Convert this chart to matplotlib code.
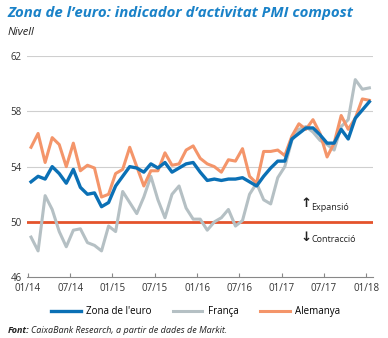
import numpy as np
import matplotlib
matplotlib.use("Agg")
import matplotlib.pyplot as plt

plt.rcParams['font.family'] = ['Open Sans', 'DejaVu Sans']

# PMI compost mensual, gener 2014 - gener 2018
zona_euro = [52.9, 53.3, 53.1, 54.0, 53.5, 52.8, 53.8, 52.5, 52.0, 52.1, 51.1, 51.4,
             52.6, 53.3, 54.0, 53.9, 53.6, 54.2, 53.9, 54.3, 53.6, 53.9, 54.2, 54.3,
             53.6, 53.0, 53.1, 53.0, 53.1, 53.1, 53.2, 52.9, 52.6, 53.3, 53.9, 54.4,
             54.4, 56.0, 56.4, 56.8, 56.8, 56.3, 55.7, 55.7, 56.7, 56.0, 57.5, 58.1,
             58.7]
franca = [48.9, 47.9, 51.9, 50.9, 49.3, 48.2, 49.4, 49.5, 48.5, 48.3, 47.9, 49.7,
          49.3, 52.2, 51.4, 50.6, 51.8, 53.3, 51.6, 50.3, 52.0, 52.6, 51.0, 50.2,
          50.2, 49.4, 50.0, 50.3, 50.9, 49.7, 50.1, 52.0, 52.8, 51.6, 51.3, 53.2,
          54.0, 55.9, 56.7, 56.9, 56.5, 55.9, 55.6, 55.2, 56.9, 57.4, 60.3, 59.6,
          59.7]
alemanya = [55.4, 56.4, 54.3, 56.1, 55.6, 54.0, 55.7, 53.7, 54.1, 53.9, 51.8, 52.0,
            53.5, 53.8, 55.4, 54.0, 52.6, 53.7, 53.7, 55.0, 54.1, 54.2, 55.2, 55.5,
            54.6, 54.2, 54.0, 53.6, 54.5, 54.4, 55.3, 53.3, 52.8, 55.1, 55.1, 55.2,
            54.8, 56.2, 57.1, 56.7, 57.4, 56.4, 54.7, 55.7, 57.7, 56.7, 57.5, 58.9,
            58.8]
tick_labels = ['01/14', '07/14', '01/15', '07/15', '01/16', '07/16', '01/17', '07/17', '01/18']

BLUE = '#0b70b5'
GRAY = '#b5c0c4'
ORANGE = '#f4956a'
RED = '#e4532b'

# mid-month positions, ticks at the start of each month
x = np.arange(len(zona_euro)) + 0.45

fig = plt.figure(figsize=(3.88, 3.38), dpi=100)
ax = fig.add_axes([0.07, 0.18, 0.892, 0.654])

for v in [54, 58, 62]:
    ax.axhline(v, color='#cfcfcf', lw=0.8, zorder=1)
ax.axhline(50, color=RED, lw=2.0, zorder=2)

l_fr, = ax.plot(x, franca, color=GRAY, lw=2.2, label='França', zorder=3)
l_de, = ax.plot(x, alemanya, color=ORANGE, lw=2.2, label='Alemanya', zorder=4)
l_ez, = ax.plot(x, zona_euro, color=BLUE, lw=2.4, label="Zona de l'euro", zorder=5)

ax.set_ylim(46, 62)
ax.set_xlim(-0.1, 49.0)
ax.set_yticks([46, 50, 54, 58, 62])
ax.set_xticks(np.arange(0, 49, 6))
ax.set_xticklabels(tick_labels)
ax.tick_params(axis='y', length=0, labelsize=7, colors='#333333', pad=4)
ax.tick_params(axis='x', direction='in', length=3, color='#888888', labelsize=7,
               colors='#333333', pad=4)
for s in ['top', 'right', 'left']:
    ax.spines[s].set_visible(False)
ax.spines['bottom'].set_color('#888888')
ax.spines['bottom'].set_linewidth(0.8)

ax.text(39.4, 51.3, '↑', fontsize=9.5, color='#222222', ha='center', va='center',
        family=['DejaVu Sans'], fontweight='bold')
ax.text(40.2, 51.05, 'Expansió', fontsize=6.5, color='#222222', ha='left', va='center')
ax.text(39.4, 48.9, '↓', fontsize=9.5, color='#222222', ha='center', va='center',
        family=['DejaVu Sans'], fontweight='bold')
ax.text(40.2, 48.75, 'Contracció', fontsize=6.5, color='#222222', ha='left', va='center')

fig.text(0.02, 0.962, "Zona de l’euro: indicador d’activitat PMI compost", fontsize=10.8,
         fontweight='bold', style='italic', color='#1a82c8', ha='left', va='center')
fig.text(0.02, 0.905, 'Nivell', fontsize=8, style='italic', color='#222222',
         ha='left', va='center')

fig.legend(handles=[l_ez, l_fr, l_de], loc='center', bbox_to_anchor=(0.505, 0.078),
           ncol=3, frameon=False, fontsize=7, handlelength=3.0, columnspacing=2.2,
           handletextpad=0.6)

fig.text(0.02, 0.022, 'Font:', fontsize=6.5, style='italic', fontweight='bold',
         color='#222222', ha='left', va='center')
fig.text(0.08, 0.022, 'CaixaBank Research, a partir de dades de Markit.', fontsize=6.5,
         style='italic', color='#222222', ha='left', va='center')

fig.savefig('out.png', dpi=100)
